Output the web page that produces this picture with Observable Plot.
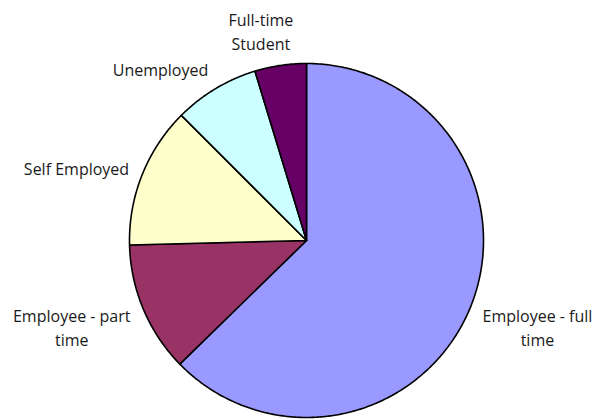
<!DOCTYPE html>
<html><head><meta charset="utf-8">
<script src="https://cdn.jsdelivr.net/npm/d3@7"></script>
<script src="https://cdn.jsdelivr.net/npm/@observablehq/plot@0.6"></script>
<style>html,body{margin:0;padding:0;background:#fff}</style>
</head><body><div id="chart"></div>
<script>
// Data
const categories = ["Employee - full time", "Employee - part time", "Self Employed", "Unemployed", "Full-time Student"];
const labels = ["Employee - full\ntime", "Employee - part\ntime", "Self Employed", "Unemployed", "Full-time\nStudent"];
const values = [62.7, 11.9, 12.9, 7.8, 4.7];
const colors = ["#9999FF", "#993366", "#FFFFCC", "#CCFFFF", "#660066"];

// Layout
const W = 606, H = 419, CX = 306, CY = 240, R = 177;
const FONT = "Open Sans", FS = 16, LH = 24;

const total = d3.sum(values);
let acc = 0;
const slices = values.map((v, i) => {
  const a0 = acc / total * 2 * Math.PI;
  acc += v;
  const a1 = acc / total * 2 * Math.PI;
  return {cat: categories[i], label: labels[i], a0, a1};
});

// polygon points for each slice (angle clockwise from 12 o'clock)
const pts = [];
for (const s of slices) {
  pts.push({cat: s.cat, x: CX, y: CY});
  const n = Math.max(2, Math.ceil((s.a1 - s.a0) / (Math.PI / 360)));
  for (let k = 0; k <= n; k++) {
    const a = s.a0 + (s.a1 - s.a0) * k / n;
    pts.push({cat: s.cat, x: CX + R * Math.sin(a), y: CY - R * Math.cos(a)});
  }
  pts.push({cat: s.cat, x: CX, y: CY});
}

// label positions (outside the pie, box pushed away from a point on the mid-angle)
const ctx = document.createElement("canvas").getContext("2d");
ctx.font = `${FS}px "${FONT}"`;
const lab = slices.map(s => {
  const m = (s.a0 + s.a1) / 2;
  const sn = Math.sin(m), cs = Math.cos(m);
  const lines = s.label.split("\n");
  const w = d3.max(lines, l => ctx.measureText(l).width);
  const h = lines.length * LH;
  const d = R + 14;
  const ax = CX + d * sn, ay = CY - d * cs;
  const k = Math.min(1, 0.35 + 1.3 * Math.abs(sn));
  return {text: s.label, x: ax + Math.sign(sn) * k * w / 2, y: ay - cs * h / 2 + 2};
});

const chart = Plot.plot({
  width: W, height: H,
  margin: 0,
  x: {domain: [0, W], range: [0, W], axis: null},
  y: {domain: [0, H], range: [0, H], axis: null},
  color: {domain: categories, range: colors},
  style: {fontFamily: `"${FONT}"`, fontSize: FS + "px", background: "#fff"},
  marks: [
    Plot.line(pts, {x: "x", y: "y", z: "cat", fill: "cat", stroke: "#000", strokeWidth: 1.6, strokeLinejoin: "round", curve: "linear"}),
    Plot.text(lab, {x: "x", y: "y", text: "text", textAnchor: "middle", lineAnchor: "middle", lineHeight: LH / FS, fill: "#1a1a1a", fontSize: FS})
  ]
});
document.getElementById("chart").appendChild(chart);
</script>
</body></html>
